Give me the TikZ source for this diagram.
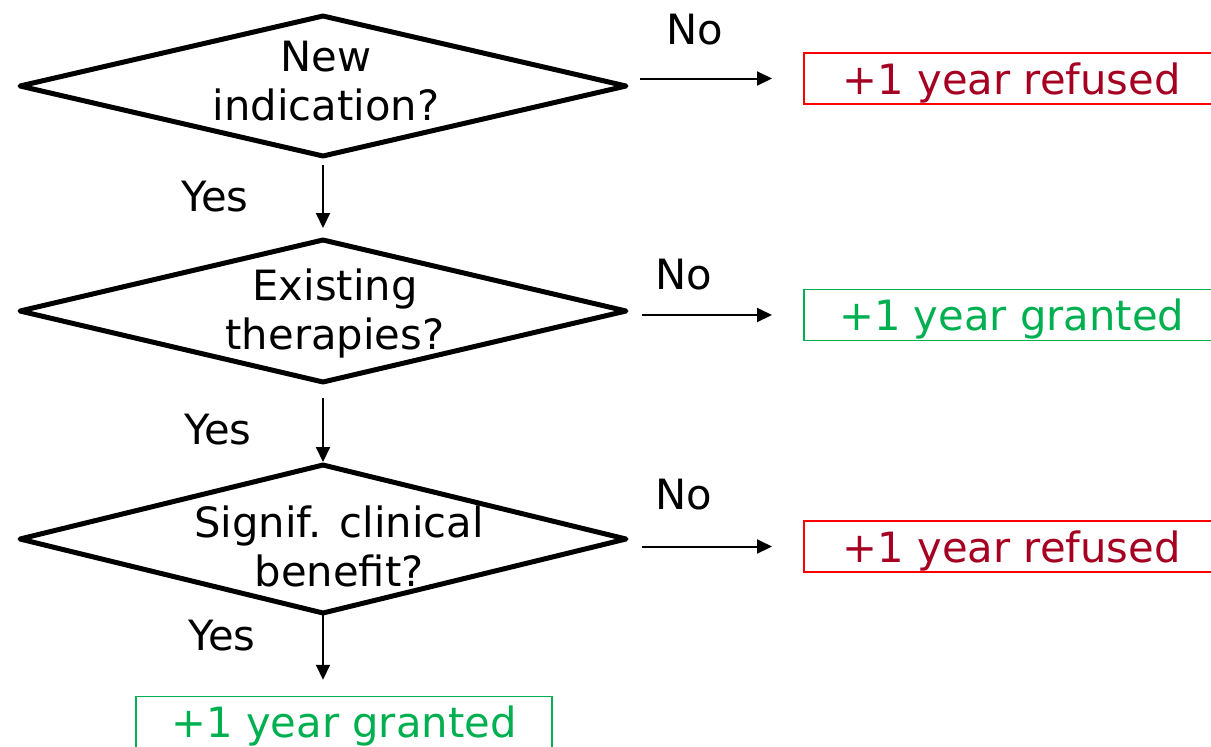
\documentclass[tikz,border=0pt]{standalone}
\usepackage{fontspec}
\setmainfont{DejaVu Sans}
\usetikzlibrary{shapes.geometric,arrows.meta}
\definecolor{refred}{HTML}{A50021}
\definecolor{boxred}{HTML}{FF0000}
\definecolor{boxgreen}{HTML}{00B050}
\tikzset{
  decision/.style={diamond, draw=black, line width=2.5pt, line join=round, inner sep=0pt, outer sep=0pt, minimum width=303pt, minimum height=70pt},
  dtext/.style={align=center, inner sep=0pt, font=\fontsize{20.85pt}{24.5pt}\selectfont},
  lbl/.style={inner sep=0pt, font=\fontsize{20.85pt}{24.5pt}\selectfont},
  outbox/.style={draw, line width=0.75pt, inner sep=0pt, minimum width=208pt, text height=20.5pt, text depth=5pt, font=\fontsize{20.85pt}{24.5pt}\selectfont},
  refusedbox/.style={outbox, draw=boxred, text=refred},
  grantedbox/.style={outbox, draw=boxgreen, text=boxgreen},
  arr/.style={line width=1pt, -{Triangle[length=7.5pt,width=7pt]}}
}
\begin{document}
\begin{tikzpicture}[x=0.5pt,y=-0.5pt]
\useasboundingbox (0,0) rectangle (1211,746);
\clip (0,0) rectangle (1211,746);
% decisions
\node[decision] (d1) at (323,86) {};
\node[decision, minimum height=71pt] (d2) at (323,311) {};
\node[decision, minimum height=74pt] (d3) at (323,539) {};
\node[dtext] (t1) at (326,81) {New\\indication?};
\node[dtext] (t2) at (335,313) {Existing\\therapies?};
\node[dtext] (t3) at (339,546) {Signif. clinical\\benefit?};
% outcomes
\node[refusedbox, anchor=west] (b1) at (803,78.5) {+1 year refused};
\node[grantedbox, anchor=west] (b2) at (803,315) {+1 year granted};
\node[refusedbox, anchor=west] (b3) at (803,546.5) {+1 year refused};
\node[grantedbox] (b4) at (344,722) {+1 year granted};
% labels
\node[lbl] (y1) at (215,197) {Yes};
\node[lbl] (y2) at (218,430) {Yes};
\node[lbl] (y3) at (222,636) {Yes};
\node[lbl] (n1) at (695,30) {No};
\node[lbl] (n2) at (684,275) {No};
\node[lbl] (n3) at (684,495) {No};
% connectors
\draw[arr, shorten <=4.5pt, shorten >=6pt] (d1.south) -- (d2.north);
\draw[arr, shorten <=8pt, shorten >=1.5pt] (d2.south) -- (d3.north);
\draw[arr, shorten <=1pt, shorten >=8pt] (d3.south) -- (d3.south |- b4.north);
\draw[arr, shorten <=7pt, shorten >=15.5pt] (d1.east |- b1.west) -- (b1.west);
\draw[arr, shorten <=8pt, shorten >=15.5pt] (d2.east |- b2.west) -- (b2.west);
\draw[arr, shorten <=8pt, shorten >=15.5pt] (d3.east |- b3.west) -- (b3.west);
\end{tikzpicture}
\end{document}
